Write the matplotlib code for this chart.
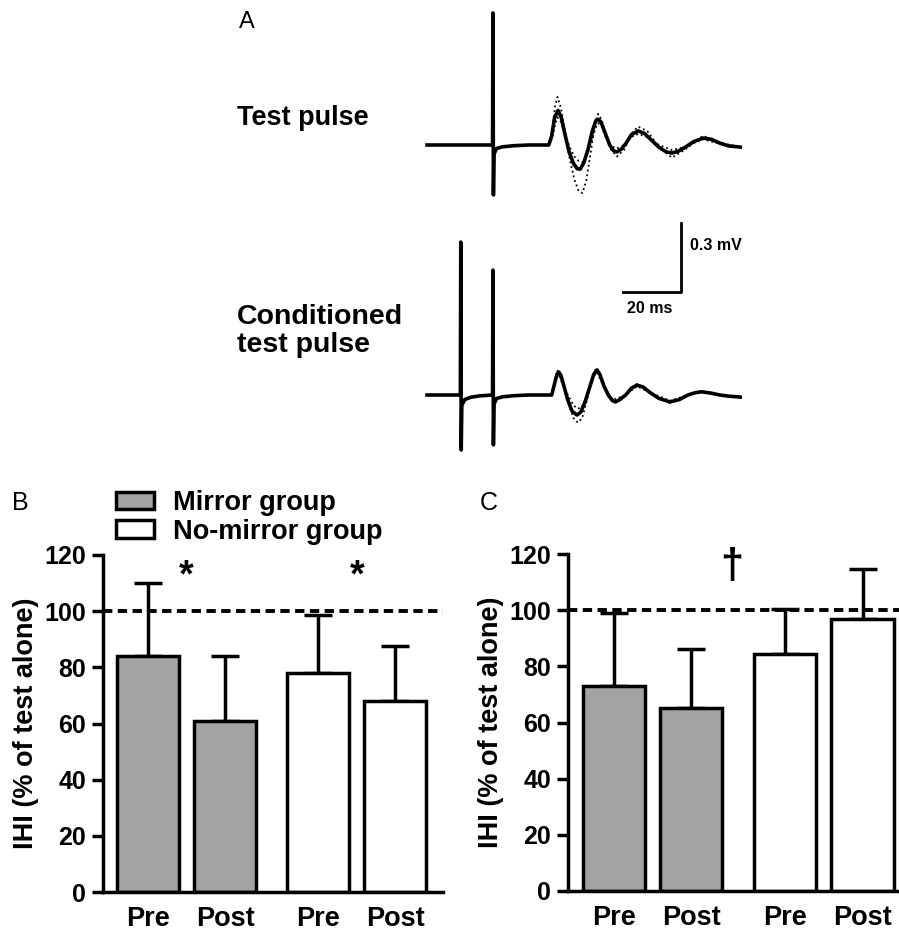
import matplotlib
matplotlib.use('Agg')
import matplotlib.pyplot as plt
from matplotlib.patches import Patch
import numpy as np

plt.rcParams['font.family'] = ['Liberation Sans', 'DejaVu Sans']

# ---- panel A: MEP traces (time in ms, amplitude in mV) ----
# averaged test pulse
test_t = [0, 22.6, 22.75, 22.9, 23.1, 24, 26, 30, 35, 42.0, 43.0, 44.0, 45.2, 46.3, 47.5, 49.0, 50.5, 51.8,
          52.8, 54.0, 55.5, 57.0, 58.2, 59.0, 60.0, 61.5, 63.0, 64.3, 65.5, 67, 68.5, 70.5, 72.8, 75, 77.5,
          80, 82.5, 84.5, 86.5, 89, 92, 95.2, 98, 101, 104, 108]
test_v = [0, 0, 0.574, -0.217, -0.04, -0.015, -0.008, -0.003, 0, 0, 0.04, 0.12, 0.150, 0.12, 0.05, -0.03,
          -0.08, -0.103, -0.105, -0.08, -0.02, 0.06, 0.105, 0.112, 0.10, 0.05, 0.0, -0.025, -0.03, -0.018,
          0.005, 0.045, 0.061, 0.05, 0.02, -0.01, -0.03, -0.035, -0.028, -0.01, 0.015, 0.03, 0.025, 0.008,
          -0.004, -0.009]
# single trials (dotted)
trial_t = [42, 43.2, 44.2, 45.0, 46.2, 47.6, 49.2, 50.8, 52.3, 53.6, 55.0, 56.6, 58.0, 59.0, 60.2, 61.8,
           63.5, 65.5, 68, 70.5, 72.8, 76, 80, 84.5, 89, 95.2, 101, 108]
test_hi_v = [0, 0.06, 0.17, 0.209, 0.16, 0.06, -0.06, -0.15, -0.2, -0.209, -0.15, -0.02, 0.10, 0.135, 0.11,
             0.04, -0.02, -0.05, -0.02, 0.05, 0.08, 0.06, -0.01, -0.055, -0.02, 0.04, 0.01, -0.009]
test_lo_v = [0, 0.03, 0.09, 0.12, 0.10, 0.05, -0.01, -0.05, -0.07, -0.075, -0.05, 0.01, 0.07, 0.095, 0.08,
             0.03, -0.005, -0.015, 0.0, 0.035, 0.048, 0.035, 0.0, -0.022, -0.008, 0.025, 0.005, -0.009]

# averaged conditioned test pulse
cond_t = [0, 11.5, 11.65, 11.8, 12.0, 13, 15, 18, 22.6, 22.75, 22.9, 23.1, 24, 26, 30, 35, 43, 44, 44.8,
          45.4, 46.2, 47.3, 48.5, 50, 51.7, 53, 54.5, 56, 57.5, 58.6, 59.6, 61, 62.5, 64, 65, 66.5, 68.5,
          70.5, 72.4, 74.5, 77, 80, 83.8, 87, 90, 92.5, 94.8, 98, 101, 104, 108]
cond_v = [0, 0, 0.665, -0.239, -0.045, -0.02, -0.01, -0.004, 0, 0.543, -0.217, -0.04, -0.015, -0.008,
          -0.003, 0, 0, 0.05, 0.09, 0.100, 0.085, 0.035, -0.02, -0.07, -0.087, -0.075, -0.03, 0.03, 0.09,
          0.109, 0.09, 0.04, 0.0, -0.025, -0.03, -0.02, 0.0, 0.03, 0.043, 0.035, 0.01, -0.015, -0.03, -0.02,
          0.0, 0.01, 0.014, 0.008, 0.0, -0.005, -0.009]
ctrial_t = [43, 44.8, 45.4, 47.3, 49, 50.5, 52, 53.5, 55, 57.5, 58.6, 61, 64, 68.5, 72.4, 77, 83.8, 90,
            94.8, 101, 108]
cond_hi_v = [0, 0.10, 0.11, 0.04, -0.04, -0.10, -0.12, -0.10, -0.03, 0.10, 0.118, 0.045, -0.035, 0.0,
             0.048, 0.01, -0.035, 0.0, 0.016, 0.0, -0.009]
cond_lo_v = [0, 0.08, 0.09, 0.03, -0.01, -0.045, -0.06, -0.05, -0.01, 0.08, 0.10, 0.035, -0.022, 0.0,
             0.038, 0.01, -0.025, 0.0, 0.012, 0.0, -0.009]

# ---- panels B and C: IHI (% of test alone) ----
conditions = ['Pre', 'Post', 'Pre', 'Post']
groups = ['Mirror group', 'No-mirror group']
ihi_b = [84, 61, 78, 68]
sd_b = [26, 23, 20.5, 19.5]
ihi_c = [73, 65, 84.5, 97]
sd_c = [26, 21, 16, 17.5]
bar_colors = ['#a3a3a3', '#a3a3a3', 'white', 'white']

W, H = 899, 931
fig = plt.figure(figsize=(W / 100, H / 100), dpi=100)

def fx(px):
    return px / W

def fy(py):
    return 1 - py / H

# panel A axes: 2.9 px per ms, 230 px per mV
axA = fig.add_axes([0, fy(465), 1, 465 / H])
axA.set_xlim(-427 / 2.9, (W - 427) / 2.9)
axA.set_ylim((395 - 465) / 230, 395 / 230)
axA.axis('off')
off_test = (395 - 145) / 230
for v in (test_hi_v, test_lo_v):
    axA.plot(trial_t, np.array(v) + off_test, ls=':', color='black', lw=1.3)
axA.plot(test_t, np.array(test_v) + off_test, color='black', lw=2.6, solid_joinstyle='round')
for v in (cond_hi_v, cond_lo_v):
    axA.plot(ctrial_t, v, ls=':', color='black', lw=1.3)
axA.plot(cond_t, cond_v, color='black', lw=2.6, solid_joinstyle='round')
# scale bar 20 ms / 0.3 mV
sx, sy = (681 - 427) / 2.9, (395 - 292) / 230
axA.plot([sx - 20, sx, sx], [sy, sy, sy + 0.3], color='black', lw=2)
axA.text(sx + 3, sy + 0.2, '0.3 mV', fontsize=11.5, fontweight='bold', va='center')
axA.text(sx - 18.5, sy - 0.07, '20 ms', fontsize=11.5, fontweight='bold', va='center')

fig.text(fx(239), fy(22), 'A', fontsize=17, va='center')
fig.text(fx(237), fy(118), 'Test pulse', fontsize=19.5, fontweight='bold', va='center')
fig.text(fx(237), fy(331), 'Conditioned\ntest pulse', fontsize=20.5, fontweight='bold', va='center',
         linespacing=1.1)

pos = [0, 1, 2.21, 3.21]

def bar_panel(rect, vals, sds, xmax, marks, mark_pos, mark_size):
    ax = fig.add_axes(rect)
    ax.bar(pos, vals, width=0.805, color=bar_colors, edgecolor='black', linewidth=2.5, zorder=2)
    ax.errorbar(pos, vals, yerr=[np.zeros(4), sds], fmt='none', ecolor='black', elinewidth=2.5,
                capsize=10, capthick=2.5, zorder=1)
    ax.axhline(100, color='black', ls=(0, (2.4, 1.4)), lw=2.8, zorder=3)
    ax.set_xlim(-0.59, xmax)
    ax.set_ylim(0, 120)
    ax.set_yticks([0, 20, 40, 60, 80, 100, 120])
    ax.set_xticks(pos)
    ax.set_xticklabels(conditions)
    ax.tick_params(axis='x', length=0, pad=10, labelsize=19.5)
    ax.tick_params(axis='y', length=8, width=2.5, pad=4, labelsize=18)
    for lab in ax.get_xticklabels() + ax.get_yticklabels():
        lab.set_fontweight('bold')
    for s in ('top', 'right'):
        ax.spines[s].set_visible(False)
    for s in ('left', 'bottom'):
        ax.spines[s].set_linewidth(2.5)
    ax.set_ylabel('IHI (% of test alone)', fontsize=19.5, fontweight='bold', labelpad=4)
    for m, (x, y) in zip(marks, mark_pos):
        ax.text(x, y, m, fontsize=mark_size, fontweight='bold', ha='center', va='center')
    return ax

axB = bar_panel([fx(103), fy(892), fx(443) - fx(103), (892 - 555) / H], ihi_b, sd_b, 3.83,
                ['*', '*'], [(0.49, 112.5), (2.71, 112.5)], 27)
axC = bar_panel([fx(568), fy(891), 1 - fx(568), (891 - 554) / H], ihi_c, sd_c, 3.68,
                ['\u2020'], [(1.52, 115.5)], 30)

fig.text(fx(12), fy(503), 'B', fontsize=18, va='center')
fig.text(fx(480), fy(503), 'C', fontsize=18, va='center')

handles = [Patch(facecolor='#a3a3a3', edgecolor='black', linewidth=2.5),
           Patch(facecolor='white', edgecolor='black', linewidth=2.5)]
fig.legend(handles, groups, loc='upper left', bbox_to_anchor=(fx(116), fy(490)),
           bbox_transform=fig.transFigure, frameon=False, borderpad=0,
           prop={'size': 19.5, 'weight': 'bold'},
           handlelength=1.4, handleheight=0.63, handletextpad=0.72, labelspacing=0.1, borderaxespad=0)

fig.savefig('out.png', dpi=100)
